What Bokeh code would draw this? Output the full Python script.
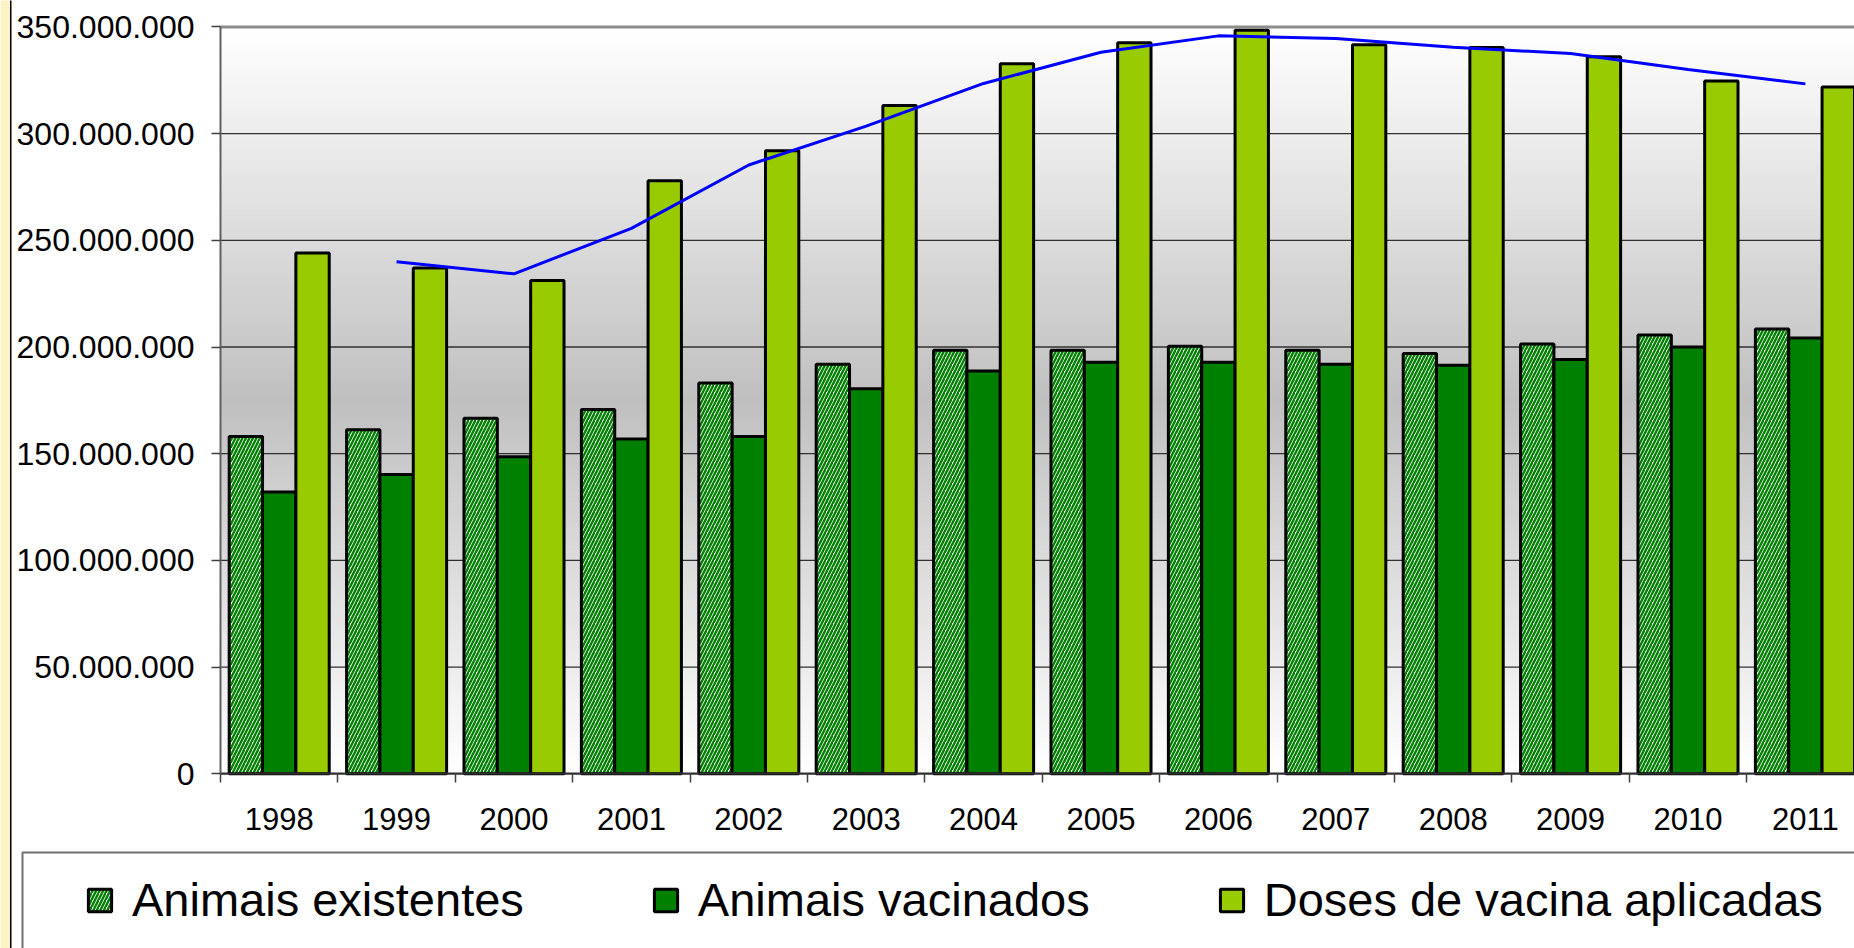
import numpy as np
from bokeh.plotting import figure
from bokeh.models import (Range1d, FixedTicker, Legend, LegendItem, BoxAnnotation, LinearAxis)
from bokeh.embed import file_html
from bokeh.resources import INLINE

# ---- data (values in millions) ----
years = ["1998", "1999", "2000", "2001", "2002", "2003", "2004",
         "2005", "2006", "2007", "2008", "2009", "2010", "2011"]
existentes = [158.1, 161.2, 166.6, 170.7, 183.1, 191.9, 198.5,
              198.5, 200.3, 198.5, 197.0, 201.4, 205.6, 208.4]
vacinados = [132.1, 140.2, 148.6, 156.9, 158.1, 180.4, 188.8,
             192.9, 192.9, 191.9, 191.4, 194.1, 200.0, 204.2]
doses = [244.1, 237.0, 231.2, 277.9, 292.0, 313.2, 332.7,
         342.6, 348.4, 341.6, 340.3, 336.0, 324.6, 321.8]
trend_years = years[1:]
trend = [239.9, 234.3, 255.6, 285.3, 303.5, 323.5, 338.1,
         345.8, 344.6, 340.5, 337.5, 330.0, 323.3]
y_ticks = [0, 50_000_000, 100_000_000, 150_000_000, 200_000_000,
           250_000_000, 300_000_000, 350_000_000]
series_names = ["Animais existentes", "Animais vacinados", "Doses de vacina aplicadas"]

M = 1e6
idx = np.arange(len(years))
tidx = np.array([years.index(y) for y in trend_years])

FONT = "Liberation Sans"
W, H = 1854, 948
X0, PX_PER_CAT = 220.0, 117.4       # pixel of category 0 start, pixels per category
Y0, PX_PER_M = 773.3, 2.134         # pixel of value 0, pixels per million


def dx(px):  # canvas pixel -> data x
    return (px - X0) / PX_PER_CAT


def dy(py):  # canvas pixel -> data y
    return (Y0 - py) / PX_PER_M * M


p = figure(width=W, height=H, output_backend="svg", toolbar_location=None,
           x_range=Range1d(dx(0), dx(W)), y_range=Range1d(dy(H), dy(0)),
           x_axis_location=None, y_axis_location=None,
           min_border_left=0, min_border_right=0, min_border_top=0,
           min_border_bottom=0)
p.background_fill_color = "white"
p.border_fill_color = "white"
p.outline_line_color = None
p.grid.visible = False

x_end = dx(W) + 1

# plot-area background gradient (white - gray - white)
n = 140
edges = np.linspace(0, y_ticks[-1], n + 1)
mid = (edges[:-1] + edges[1:]) / 2 / y_ticks[-1]
g = 255 - (255 - 192) * (1 - np.abs(mid - 0.5) * 2)
cols = ["#%02x%02x%02x" % (v, v, v) for v in np.round(g).astype(int)]
p.quad(left=0, right=x_end, bottom=edges[:-1],
       top=np.minimum(edges[1:] + 0.4e6, y_ticks[-1]),
       fill_color=cols, line_color=None, level="image")

# gridlines and top border of the plot area
p.segment(x0=0, x1=x_end, y0=y_ticks[:-1], y1=y_ticks[:-1],
          line_color="#303030", line_width=1.3, level="underlay")
p.segment(x0=0, x1=x_end, y0=y_ticks[-1], y1=y_ticks[-1],
          line_color="#8c8c8c", line_width=3, level="underlay")

bw = 0.284
r1 = p.vbar(x=idx + 0.5 - bw, top=np.array(existentes) * M, width=bw,
            fill_color="white", hatch_pattern="/", hatch_color="#008000",
            hatch_scale=7, hatch_weight=2.4, line_color="black", line_width=3)
r2 = p.vbar(x=idx + 0.5, top=np.array(vacinados) * M, width=bw,
            fill_color="#008000", line_color="black", line_width=3)
r3 = p.vbar(x=idx + 0.5 + bw, top=np.array(doses) * M, width=bw,
            fill_color="#99cc00", line_color="black", line_width=3)

p.line(x=tidx + 0.5, y=np.array(trend) * M, line_color="#0000ff", line_width=3)

# axes, fixed at the plot-area edges
xa = LinearAxis(fixed_location=0, bounds=(0, x_end))
xa.ticker = FixedTicker(ticks=list(idx + 0.5), minor_ticks=list(range(len(years) + 1)))
xa.major_label_overrides = {float(i + 0.5): y for i, y in enumerate(years)}
xa.major_tick_out = 0
xa.major_tick_in = 0
xa.minor_tick_out = 9
xa.minor_tick_in = 0
xa.minor_tick_line_color = "#404040"
xa.minor_tick_line_width = 1.5
xa.axis_line_color = "#303030"
xa.axis_line_width = 2
xa.major_label_text_font = FONT
xa.major_label_text_font_size = "31px"
xa.major_label_text_color = "black"
xa.major_label_standoff = 25
p.add_layout(xa, "below")

ya = LinearAxis(fixed_location=0, bounds=(0, y_ticks[-1]))
ya.ticker = FixedTicker(ticks=y_ticks)
ya.major_label_overrides = {float(v): f"{v:,}".replace(",", ".") for v in y_ticks}
ya.major_tick_out = 9
ya.major_tick_in = 0
ya.major_tick_line_color = "#404040"
ya.major_tick_line_width = 1.5
ya.minor_tick_line_color = None
ya.axis_line_color = "#606060"
ya.axis_line_width = 2
ya.major_label_text_font = FONT
ya.major_label_text_font_size = "32px"
ya.major_label_text_color = "black"
ya.major_label_standoff = 17
p.add_layout(ya, "left")

# slide decorations: yellow strip, black border, legend box
p.add_layout(BoxAnnotation(left=dx(-5), right=dx(9.5), top=dy(-50), bottom=dy(H + 50),
                           fill_color="#fbf2c6", fill_alpha=1, line_color=None))
p.add_layout(BoxAnnotation(left=dx(9.5), right=dx(11), top=dy(-50), bottom=dy(H + 50),
                           fill_color="black", fill_alpha=1, line_color=None))
p.add_layout(BoxAnnotation(left=dx(22), right=dx(W + 100), top=dy(852), bottom=dy(H + 100),
                           fill_color="white", fill_alpha=1, line_color="#707070",
                           line_width=2, line_alpha=1))

legend = Legend(items=[LegendItem(label=series_names[0], renderers=[r1]),
                       LegendItem(label=series_names[1], renderers=[r2]),
                       LegendItem(label=series_names[2], renderers=[r3])],
                location=(85, 21), orientation="horizontal", padding=20,
                spacing=127, label_standoff=18, glyph_width=29, glyph_height=28,
                label_text_font=FONT, label_text_font_size="47px",
                label_text_color="black", border_line_color=None,
                background_fill_alpha=0, margin=0)
p.add_layout(legend)

open("out.html", "w").write(file_html(p, INLINE))
